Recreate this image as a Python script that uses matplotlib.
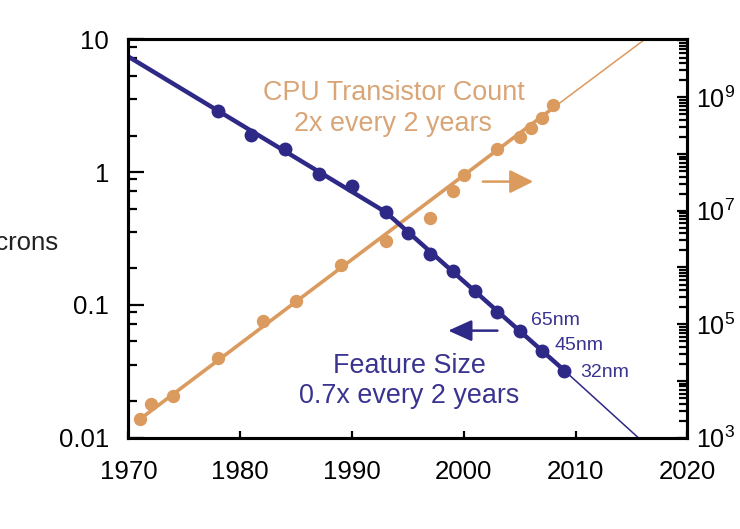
import matplotlib
matplotlib.use('Agg')
import matplotlib.pyplot as plt
from matplotlib.ticker import FixedLocator, FixedFormatter, NullFormatter, LogLocator

plt.rcParams['font.family'] = ['Liberation Sans', 'DejaVu Sans']
plt.rcParams['mathtext.fontset'] = 'custom'
plt.rcParams['mathtext.rm'] = 'Liberation Sans'
plt.rcParams['mathtext.it'] = 'Liberation Sans:italic'

# ---- data ----
feature_years = [1978, 1981, 1984, 1987, 1990, 1993, 1995, 1997, 1999, 2001, 2003, 2005, 2007, 2009]
feature_microns = [2.9, 1.9, 1.49, 0.96, 0.79, 0.5, 0.35, 0.24, 0.18, 0.128, 0.089, 0.064, 0.045, 0.032]
feature_fit_years = [1970, 1993, 2009]
feature_fit_vals = [7.4, 0.5, 0.032]
feature_ext_years = [2009, 2015.6]
feature_ext_vals = [0.032, 0.01]
node_labels = ['65nm', '45nm', '32nm']

transistor_years = [1971, 1972, 1974, 1978, 1982, 1985, 1989, 1993, 1997, 1999,
                    2000, 2003, 2005, 2006, 2007, 2008]
transistor_counts = [2.1e3, 3.85e3, 5.45e3, 2.57e4, 1.16e5, 2.53e5, 1.11e6, 2.94e6, 7.4e6, 2.2e7,
                     4.2e7, 1.24e8, 1.96e8, 2.86e8, 4.3e8, 7.2e8]
transistor_fit_years = [1971, 2008]
transistor_fit_vals = [2.1e3, 6.5e8]
transistor_ext_years = [2008, 2016.2]
transistor_ext_vals = [6.5e8, 1.05e10]

x_ticks = [1970, 1980, 1990, 2000, 2010, 2020]
left_ticks = [0.01, 0.1, 1, 10]
left_ticklabels = ['0.01', '0.1', '1', '10']
right_ticks = [1e3, 1e4, 1e5, 1e6, 1e7, 1e8, 1e9, 1e10]
right_ticklabels = ['$10^3$', '', '$10^5$', '', '$10^7$', '', '$10^9$', '']

BLUE = '#2E2886'
BLUE_TXT = '#3A3390'
ORANGE = '#DB9A5E'
ORANGE_TXT = '#D9A577'

fig = plt.figure(figsize=(7.4, 5.29), dpi=100)
ax = fig.add_axes([0.1736, 0.1726, 0.7554, 0.7531])
ax2 = ax.twinx()
ax.set_zorder(ax2.get_zorder() + 1)
ax.patch.set_visible(False)

ax.set_xlim(1970, 2020)
ax.set_yscale('log')
ax.set_ylim(0.01, 10)
ax2.set_yscale('log')
ax2.set_ylim(1e3, 10 ** 10.02)

# transistor count (right axis)
ax2.plot(transistor_fit_years, transistor_fit_vals, color=ORANGE, lw=2.6, solid_capstyle='round')
ax2.plot(transistor_ext_years, transistor_ext_vals, color=ORANGE, lw=1.1)
ax2.plot(transistor_years, transistor_counts, 'o', color=ORANGE, ms=9.6, mec='none')

# feature size (left axis)
ax.plot(feature_fit_years, feature_fit_vals, color=BLUE, lw=3.2, solid_capstyle='round')
ax.plot(feature_ext_years, feature_ext_vals, color=BLUE, lw=1.1)
ax.plot(feature_years, feature_microns, 'o', color=BLUE, ms=10, mec='none')

for lab, yr, val, off in zip(node_labels, feature_years[-3:], feature_microns[-3:],
                             [(11, 10), (12, 5), (16, -2)]):
    ax.annotate(lab, xy=(yr, val), xytext=off, textcoords='offset pixels',
                ha='left', va='center', fontsize=14, color=BLUE_TXT)

# annotations
ax.text(0.474, (437.7 - 100) / 398.4, 'CPU Transistor Count', transform=ax.transAxes,
        ha='center', va='baseline', fontsize=19.4, color=ORANGE_TXT)
ax.text(0.474, (437.7 - 130.7) / 398.4, '2x every 2 years', transform=ax.transAxes,
        ha='center', va='baseline', fontsize=19.4, color=ORANGE_TXT)
ax.text(0.502, (437.7 - 373.3) / 398.4, 'Feature Size', transform=ax.transAxes,
        ha='center', va='baseline', fontsize=19.4, color=BLUE_TXT)
ax.text(0.502, (437.7 - 403.5) / 398.4, '0.7x every 2 years', transform=ax.transAxes,
        ha='center', va='baseline', fontsize=19.4, color=BLUE_TXT)

ax.annotate('', xy=(2006.2, 0.848), xytext=(2001.7, 0.848),
            arrowprops=dict(arrowstyle='-|>,head_length=1.44,head_width=0.72',
                            color=ORANGE, lw=1.8, shrinkA=0, shrinkB=0))
ax.annotate('', xy=(1998.6, 0.064), xytext=(2003.0, 0.064),
            arrowprops=dict(arrowstyle='-|>,head_length=1.44,head_width=0.65',
                            color=BLUE, lw=1.8, shrinkA=0, shrinkB=0))

fig.text(59 / 740, 1 - 250 / 529, 'Microns', ha='right', va='baseline', fontsize=18.5, color='#222222')

# ticks
ax.xaxis.set_major_locator(FixedLocator(x_ticks))
ax.set_xticklabels([str(t) for t in x_ticks])
ax.yaxis.set_major_locator(FixedLocator(left_ticks))
ax.yaxis.set_major_formatter(FixedFormatter(left_ticklabels))
minor_fracs = [0.275, 0.55, 0.725, 0.857, 0.945]
ax.yaxis.set_minor_locator(FixedLocator([10 ** (d + f) for d in (-2, -1, 0) for f in minor_fracs]))
ax.yaxis.set_minor_formatter(NullFormatter())
ax.xaxis.set_minor_locator(FixedLocator([]))

ax2.yaxis.set_major_locator(FixedLocator(right_ticks))
ax2.yaxis.set_major_formatter(FixedFormatter(right_ticklabels))
ax2.yaxis.set_minor_locator(LogLocator(base=10, subs=range(2, 10), numticks=20))
ax2.yaxis.set_minor_formatter(NullFormatter())

for a in (ax, ax2):
    for s in a.spines.values():
        s.set_linewidth(2.2)
        s.set_color('black')

ax.tick_params(axis='x', which='major', direction='in', length=5, width=1.6,
               labelsize=18.6, pad=16, top=False)
ax.tick_params(axis='y', which='major', direction='in', length=11.5, width=1.6,
               labelsize=18.6, pad=14, right=False)
ax.tick_params(axis='y', which='minor', direction='in', length=6.5, width=1.6, right=False)
ax2.tick_params(axis='y', which='major', direction='in', length=7, width=1.6,
                labelsize=18, pad=6, left=False)
ax2.tick_params(axis='y', which='minor', direction='in', length=5.5, width=1.6, left=False)

fig.savefig('out.png', dpi=100)
